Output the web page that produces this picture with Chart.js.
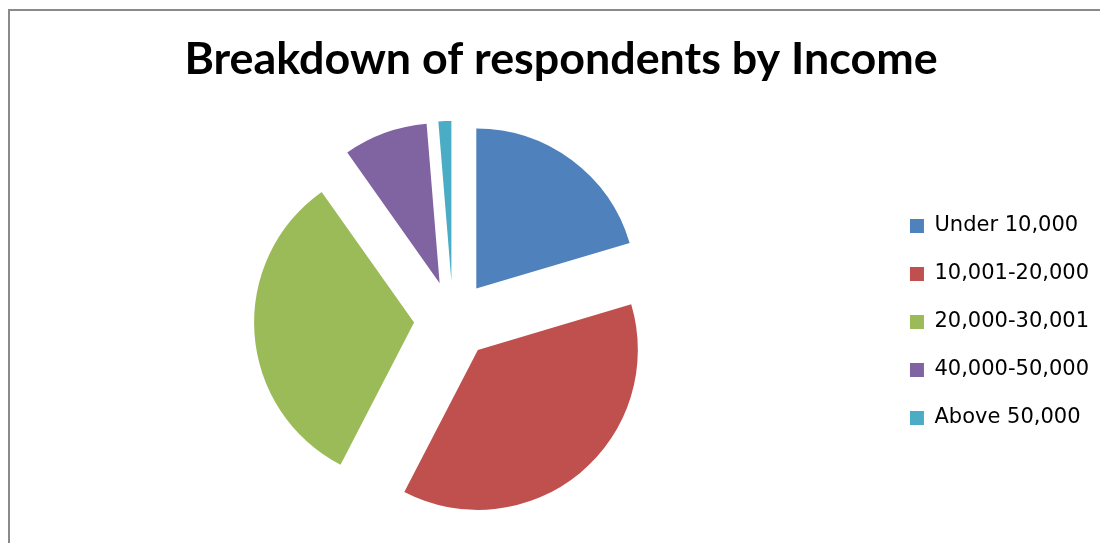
<!DOCTYPE html>
<html>
<head>
<meta charset="utf-8">
<script src="https://cdn.jsdelivr.net/npm/chart.js@4/dist/chart.umd.min.js"></script>
<style>
  html, body { margin: 0; padding: 0; background: #fff; overflow: hidden; }
  .frame {
    position: absolute; left: 8px; top: 9px; width: 1200px; height: 700px;
    border-top: 2px solid #8a8a8a; border-left: 2px solid #8a8a8a;
  }
  .chart-box { position: absolute; left: 10px; top: 11px; width: 1103px; height: 532px; }
</style>
</head>
<body>
<div class="frame"></div>
<div class="chart-box"><canvas id="incomeChart"></canvas></div>
<script>
// values (share of respondents, %)
var incomeLabels = ['Under 10,000', '10,001-20,000', '20,000-30,001', '40,000-50,000', 'Above 50,000'];
var incomeShares = [20.4, 37.2, 32.6, 8.5, 1.3];
var sliceColors = ['#4F81BD', '#C0504D', '#9BBB59', '#8064A2', '#4BACC6'];

var EXPLODE = 39; // px every slice is pulled out from the centre

// pull each slice out along its mid angle without changing its radius
var explodePlugin = {
    id: 'explodeSlices',
    beforeDatasetDraw: function (chart, args) {
        args.meta.data.forEach(function (arc) {
            if (arc._exploded) return;
            var baseDraw = arc.draw;
            arc.draw = function (ctx, area) {
                var mid = (this.startAngle + this.endAngle) / 2;
                ctx.save();
                ctx.translate(Math.cos(mid) * EXPLODE, Math.sin(mid) * EXPLODE);
                baseDraw.call(this, ctx, area);
                ctx.restore();
            };
            arc._exploded = true;
        });
    }
};

var incomeChart = new Chart(document.getElementById('incomeChart'), {
    type: 'pie',
    data: {
        labels: incomeLabels,
        datasets: [{
            data: incomeShares,
            backgroundColor: sliceColors,
            borderWidth: 0,
            hoverOffset: 0
        }]
    },
    options: {
        animation: false,
        responsive: true,
        maintainAspectRatio: false,
        radius: 160,
        layout: {
            padding: { left: 13, right: 14, top: 0, bottom: 10 }
        },
        plugins: {
            title: {
                display: true,
                text: 'Breakdown of respondents by Income',
                color: '#000',
                font: { family: 'Lato', size: 44.8, weight: 'bold' },
                padding: { top: 22, bottom: 20 }
            },
            legend: {
                position: 'right',
                fullSize: false,
                // empty title only nudges the items down a little
                title: { display: true, text: '', font: { size: 1 }, padding: { top: 2.8, bottom: 0 } },
                labels: {
                    color: '#000',
                    boxWidth: 14,
                    boxHeight: 14,
                    padding: 27,
                    font: { family: 'DejaVu Sans', size: 21 }
                }
            },
            tooltip: { enabled: false }
        }
    },
    plugins: [explodePlugin]
});
</script>
</body>
</html>
